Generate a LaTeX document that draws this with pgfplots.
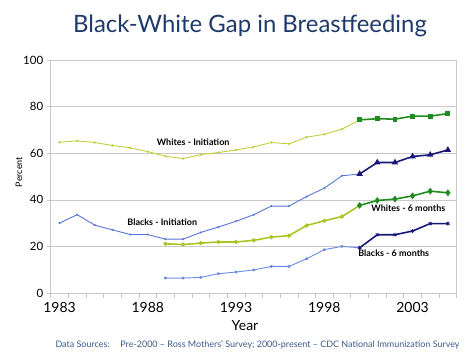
\documentclass[border=0pt]{standalone}
\usepackage{fontspec}
\setmainfont{Lato}
\usepackage{pgfplots}
\pgfplotsset{compat=1.18}
\definecolor{titleblue}{HTML}{1F3A6B}
\definecolor{srcblue}{HTML}{3A5A8C}
\definecolor{wiPre}{HTML}{C2CF3C}
\definecolor{wsPre}{HTML}{A8C622}
\definecolor{wPost}{HTML}{1F8C1F}
\definecolor{biPre}{HTML}{5874D6}
\definecolor{bsPre}{HTML}{6C8AE2}
\definecolor{bPost}{HTML}{18187A}
\definecolor{gridgray}{HTML}{C8C8C8}
\begin{document}
\begin{tikzpicture}
\path[use as bounding box] (0,0) rectangle (474bp,355bp);
\node[anchor=base, font=\fontsize{24}{28}\selectfont, text=titleblue] at (250bp,322bp) {Black-White Gap in Breastfeeding};
\begin{axis}[
  at={(50.7bp,62bp)}, anchor=south west,
  scale only axis, width=406bp, height=233bp,
  xmin=1982.5, xmax=2005.5, ymin=0, ymax=100,
  xtick={1983,1988,1993,1998,2003},
  xticklabels={1983,1988,1993,1998,2003},
  minor xtick={1982.5,1983.5,...,2005.5},
  ytick={0,20,40,60,80,100},
  major x tick style={draw=none},
  minor tick length=5bp,
  major tick length=4bp,
  tick align=outside,
  tick pos=left,
  ymajorgrids, grid style={gridgray, line width=0.6pt},
  axis line style={gridgray, line width=0.8pt},
  every tick/.style={gridgray, line width=0.6pt},
  /pgf/number format/assume math mode=true,
  xticklabel style={font=\fontsize{14}{16}\selectfont, yshift=-2bp},
  yticklabel style={font=\fontsize{11.5}{13}\selectfont},
  clip=false,
]
% Whites - Initiation
\addplot[wiPre, line width=0.9pt, mark=*, mark size=0.7pt] coordinates {
(1983,64.7)(1984,65.3)(1985,64.6)(1986,63.3)(1987,62.3)(1988,60.7)(1989,58.7)(1990,57.7)(1991,59.4)(1992,60.3)(1993,61.4)(1994,62.7)(1995,64.6)(1996,64.0)(1997,66.9)(1998,68.1)(1999,70.3)(2000,74.3)};
\addplot[wPost, line width=1.6pt, mark=square*, mark size=1.6pt] coordinates {
(2000,74.3)(2001,74.8)(2002,74.6)(2003,75.9)(2004,75.9)(2005,77.0)};
% Blacks - Initiation
\addplot[biPre, line width=0.9pt, mark=*, mark size=0.5pt] coordinates {
(1983,30.0)(1984,33.6)(1985,29.1)(1986,27.1)(1987,25.1)(1988,25.1)(1989,23.1)(1990,23.1)(1991,26.0)(1992,28.3)(1993,30.8)(1994,33.6)(1995,37.3)(1996,37.3)(1997,41.4)(1998,45.0)(1999,50.3)(2000,51.1)};
\addplot[bPost, line width=1.6pt, mark=triangle*, mark size=2.2pt] coordinates {
(2000,51.1)(2001,56.0)(2002,56.0)(2003,58.6)(2004,59.3)(2005,61.4)};
% Whites - 6 months
\addplot[wsPre, line width=1.6pt, mark=*, mark size=1.2pt] coordinates {
(1989,21.1)(1990,20.8)(1991,21.4)(1992,21.9)(1993,21.9)(1994,22.6)(1995,24.0)(1996,24.6)(1997,29.0)(1998,31.0)(1999,32.8)(2000,37.6)};
\addplot[wPost, line width=1.6pt, mark=diamond*, mark size=2.2pt] coordinates {
(2000,37.6)(2001,39.7)(2002,40.3)(2003,41.7)(2004,43.7)(2005,43.0)};
% Blacks - 6 months
\addplot[bsPre, line width=0.9pt, mark=asterisk, mark size=1.4pt] coordinates {
(1989,6.4)(1990,6.4)(1991,6.7)(1992,8.3)(1993,9.0)(1994,9.9)(1995,11.4)(1996,11.4)(1997,14.7)(1998,18.6)(1999,20.0)(2000,19.4)};
\addplot[bPost, line width=1.6pt, mark=asterisk, mark size=2pt, mark options={line width=0.8pt}] coordinates {
(2000,19.4)(2001,25.0)(2002,25.0)(2003,26.6)(2004,29.8)(2005,29.8)};
% labels
\node[font=\fontsize{9}{11}\selectfont\bfseries] at (axis cs:1990.57,64.7) {Whites - Initiation};
\node[font=\fontsize{9}{11}\selectfont\bfseries] at (axis cs:1988.82,30.3) {Blacks - Initiation};
\node[font=\fontsize{9}{11}\selectfont\bfseries] at (axis cs:2002.76,36.6) {Whites - 6 months};
\node[font=\fontsize{9}{11}\selectfont\bfseries] at (axis cs:2001.93,17.2) {Blacks - 6 months};
\end{axis}
\node[rotate=90, font=\fontsize{9}{11}\selectfont] at (19bp,183bp) {Percent};
\node[anchor=base, font=\fontsize{14}{16}\selectfont] at (245bp,25bp) {Year};
\node[anchor=base west, font=\fontsize{9}{11}\selectfont, text=srcblue] at (52bp,8bp) {Data Sources:\hspace{1.2em}Pre-2000 -- Ross Mothers' Survey; 2000-present -- CDC National Immunization Survey};
\end{tikzpicture}
\end{document}
